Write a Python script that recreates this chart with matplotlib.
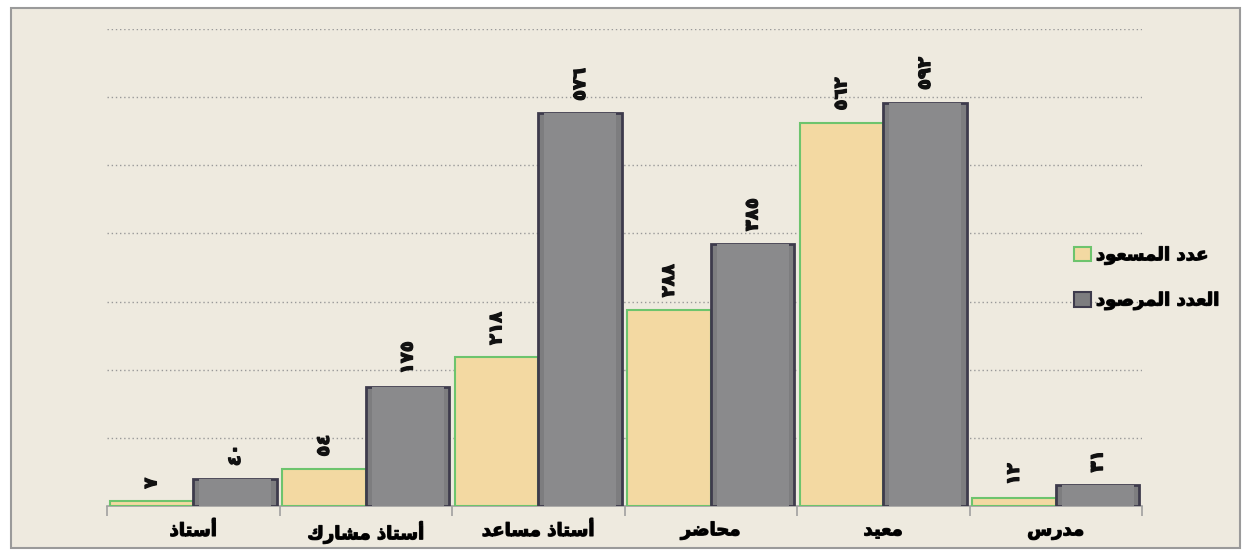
import matplotlib
matplotlib.use("Agg")
import matplotlib.pyplot as plt
from matplotlib.patches import Rectangle
import matplotlib.patheffects as pe
import numpy as np

# ---------------- data ----------------
categories = ["أستاذ", "أستاذ مشارك", "أستاذ مساعد", "محاضر", "معيد", "مدرس"]
series_names = ["عدد المسعود", "العدد المرصود"]
counted = [7, 54, 218, 288, 562, 12]        # عدد المسعود
observed = [40, 175, 576, 385, 592, 31]     # العدد المرصود

# ---------------- minimal Arabic shaping ----------------
FORMS = {
    'ا': ('\uFE8D', '\uFE8E', None, None),
    'أ': ('\uFE83', '\uFE84', None, None),
    'ت': ('\uFE95', '\uFE96', '\uFE97', '\uFE98'),
    'ح': ('\uFEA1', '\uFEA2', '\uFEA3', '\uFEA4'),
    'د': ('\uFEA9', '\uFEAA', None, None),
    'ذ': ('\uFEAB', '\uFEAC', None, None),
    'ر': ('\uFEAD', '\uFEAE', None, None),
    'س': ('\uFEB1', '\uFEB2', '\uFEB3', '\uFEB4'),
    'ش': ('\uFEB5', '\uFEB6', '\uFEB7', '\uFEB8'),
    'ص': ('\uFEB9', '\uFEBA', '\uFEBB', '\uFEBC'),
    'ض': ('\uFEBD', '\uFEBE', '\uFEBF', '\uFEC0'),
    'ع': ('\uFEC9', '\uFECA', '\uFECB', '\uFECC'),
    'ك': ('\uFED9', '\uFEDA', '\uFEDB', '\uFEDC'),
    'ل': ('\uFEDD', '\uFEDE', '\uFEDF', '\uFEE0'),
    'م': ('\uFEE1', '\uFEE2', '\uFEE3', '\uFEE4'),
    'و': ('\uFEED', '\uFEEE', None, None),
    'ي': ('\uFEF1', '\uFEF2', '\uFEF3', '\uFEF4'),
}


def shape(text):
    out = []
    n = len(text)
    for i, ch in enumerate(text):
        if ch not in FORMS:
            out.append(ch)
            continue
        f = FORMS[ch]
        prev = text[i - 1] if i > 0 else None
        nxt = text[i + 1] if i < n - 1 else None
        join_prev = prev in FORMS and FORMS[prev][2] is not None
        join_next = f[2] is not None and nxt in FORMS
        if join_prev and join_next:
            out.append(f[3])
        elif join_prev:
            out.append(f[1])
        elif join_next:
            out.append(f[2])
        else:
            out.append(f[0])
    return ''.join(out)[::-1]


AR_DIGITS = str.maketrans("0123456789", "٠١٢٣٤٥٦٧٨٩")


def ar_num(v):
    return str(v).translate(AR_DIGITS)


bold_fx = [pe.withStroke(linewidth=0.9, foreground="#111111")]

# ---------------- figure ----------------
W, H = 1244, 551
fig = plt.figure(figsize=(W / 100, H / 100), dpi=100)
fig.patch.set_facecolor("white")

bg = "#EEEADF"
fig.patches.append(Rectangle((11 / W, 1 - 548 / H), (1240 - 11) / W, (548 - 8) / H,
                             transform=fig.transFigure, facecolor=bg,
                             edgecolor="#9A9A9A", linewidth=1.5, zorder=-5))

ax = fig.add_axes([107 / W, 1 - 506 / H, (1142 - 107) / W, (506 - 29) / H])
ax.set_zorder(2)
ax.set_facecolor("none")

x = np.arange(len(categories))
bw = 0.485
tan_face = "#F3D9A2"
tan_edge = "#6DC46D"
gray_face = "#7D7D7F"
gray_edge = "#3E3B4C"

b1 = ax.bar(x - bw / 2, counted, width=bw, color=tan_face, edgecolor=tan_edge,
            linewidth=1.5, zorder=3)
b2 = ax.bar(x + bw / 2, observed, width=bw, color=gray_face, edgecolor=gray_edge,
            linewidth=2.0, zorder=3)

# bevel highlight on gray bars
for xi, v in zip(x, observed):
    ax.bar(xi + bw / 2, v, width=bw * 0.86, color="#8A8A8C", linewidth=0, zorder=3.5)

for bars, vals in ((b1, counted), (b2, observed)):
    for rect, v in zip(bars, vals):
        ax.annotate(ar_num(v), (rect.get_x() + rect.get_width() / 2, v),
                    xytext=(0, 9), textcoords="offset points",
                    rotation=90, ha="center", va="bottom",
                    fontsize=13, fontweight="bold", color="#111111",
                    family=["DejaVu Sans"], zorder=5, path_effects=bold_fx)

ax.set_xlim(-0.5, len(categories) - 0.5)
ax.set_ylim(0, 700)
ax.set_yticks(np.arange(100, 701, 100))
ax.yaxis.grid(True, linestyle=(0, (1, 2)), color="#999999", linewidth=1.0, zorder=1)
ax.tick_params(axis="y", left=False, labelleft=False)

ax.set_xticks(x)
ax.set_xticklabels([shape(c) for c in categories], fontsize=13, fontweight="bold",
                   family=["DejaVu Sans"])
for t in ax.get_xticklabels():
    t.set_path_effects(bold_fx)
ax.tick_params(axis="x", which="major", length=0, pad=11)
ax.set_xticks(np.arange(-0.5, len(categories), 1.0), minor=True)
ax.tick_params(axis="x", which="minor", length=7, color="#A0A0A0", width=1.2)

for s in ("top", "right", "left"):
    ax.spines[s].set_visible(False)
ax.spines["bottom"].set_color("#A0A0A0")
ax.spines["bottom"].set_linewidth(1.2)

handles = [
    Rectangle((0, 0), 1, 1, facecolor=tan_face, edgecolor=tan_edge, linewidth=1.5),
    Rectangle((0, 0), 1, 1, facecolor=gray_face, edgecolor=gray_edge, linewidth=1.5),
]
leg = fig.legend(handles, [shape(s) for s in series_names],
                 loc="center left", bbox_to_anchor=(1058 / W, 1 - 278 / H),
                 frameon=False, handlelength=0.9, handleheight=0.9,
                 handletextpad=0.3, labelspacing=1.5,
                 prop={"weight": "bold", "size": 13, "family": ["DejaVu Sans"]})
for t in leg.get_texts():
    t.set_path_effects(bold_fx)

fig.savefig("out.png", dpi=100, facecolor=fig.get_facecolor())
